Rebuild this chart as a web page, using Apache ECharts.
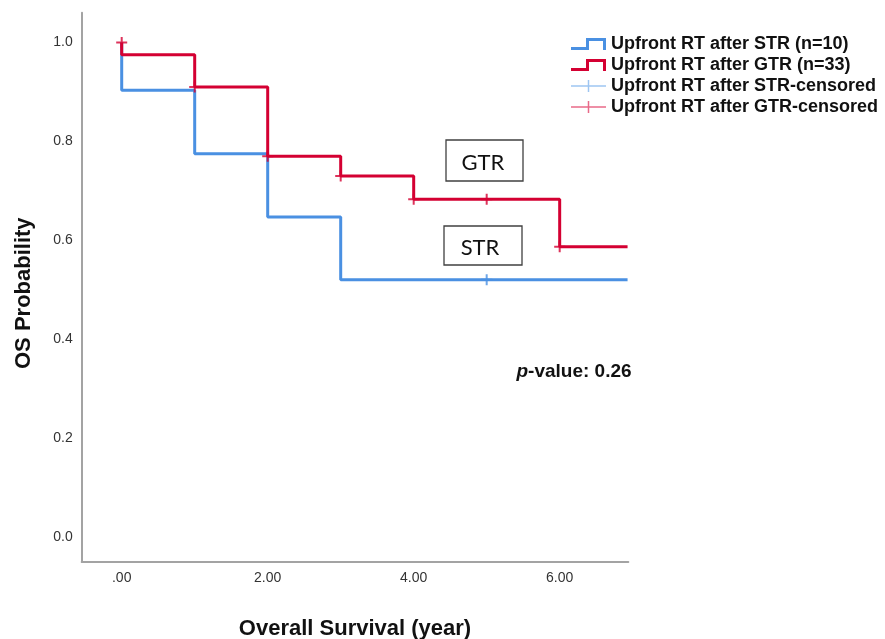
<!DOCTYPE html>
<html>
<head>
<meta charset="utf-8">
<script src="https://cdn.jsdelivr.net/npm/echarts@6/dist/echarts.min.js"></script>
<style>
html,body{margin:0;padding:0;background:#fff;overflow:hidden;}
#chart{width:885px;height:639px;}
</style>
</head>
<body>
<div id="chart"></div>
<script>
// ---- data ----
const seriesNames = [
  'Upfront RT after STR (n=10)',
  'Upfront RT after GTR (n=33)',
  'Upfront RT after STR-censored',
  'Upfront RT after GTR-censored'
];
const strTimes = [0, 0, 1, 2, 3, 6.93];
const strSurv  = [1.0, 0.903, 0.775, 0.647, 0.52, 0.52];
const gtrTimes = [0, 0, 1, 2, 3, 4, 6, 6.93];
const gtrSurv  = [1.0, 0.975, 0.91, 0.77, 0.73, 0.683, 0.587, 0.587];
const strCensTimes = [5];
const strCensSurv  = [0.52];
const gtrCensTimes = [0, 1, 2, 3, 4, 5, 6];
const gtrCensSurv  = [1.0, 0.91, 0.77, 0.73, 0.683, 0.683, 0.587];
const xTickValues = [0, 2, 4, 6];
const xTickLabels = ['.00', '2.00', '4.00', '6.00'];
const yTickValues = [0, 0.2, 0.4, 0.6, 0.8, 1.0];
const yTickLabels = ['0.0', '0.2', '0.4', '0.6', '0.8', '1.0'];
const xTitle = 'Overall Survival (year)';
const yTitle = 'OS Probability';
const pValueText = '0.26';

const zip = (a, b) => a.map((v, i) => [v, b[i]]);

const BLUE = '#4a90e2';
const RED = '#d40032';
const FONT = '"Liberation Sans", Arial, sans-serif';
const stepIcon = 'path://M0,9 L15,9 L15,0 L35,0 L35,12 L32,12 L32,3 L18,3 L18,12 L0,12 Z';
const censIcon = 'path://M0,5.25 L35,5.25 L35,6.75 L0,6.75 Z M16.75,0 L18.25,0 L18.25,12 L16.75,12 Z';
const plusMark = 'path://M0,4.5 L11,4.5 L11,6.5 L0,6.5 Z M4.5,0 L6.5,0 L6.5,11 L4.5,11 Z';

const chart = echarts.init(document.getElementById('chart'), null, {renderer: 'canvas'});
chart.setOption({
  animation: false,
  backgroundColor: '#fff',
  grid: {left: 81.7, top: 12.7, right: 256.7, bottom: 77.3, containLabel: false, outerBoundsMode: 'none'},
  legend: {
    orient: 'vertical',
    left: 571, top: 35,
    padding: 0,
    itemGap: 3,
    itemWidth: 35, itemHeight: 12,
    textStyle: {fontFamily: FONT, fontSize: 18, fontWeight: 'bold', color: '#111'},
    itemStyle: {borderWidth: 0},
    data: [
      {name: seriesNames[0], icon: stepIcon, itemStyle: {color: BLUE}},
      {name: seriesNames[1], icon: stepIcon, itemStyle: {color: RED}},
      {name: seriesNames[2], icon: censIcon, itemStyle: {color: '#86b6ee'}},
      {name: seriesNames[3], icon: censIcon, itemStyle: {color: '#e2456c'}}
    ],
    selectedMode: false
  },
  xAxis: {
    type: 'value', min: -0.548, max: 6.94,
    name: xTitle, nameLocation: 'middle', nameGap: 56,
    nameTextStyle: {fontFamily: FONT, fontSize: 22, fontWeight: 'bold', color: '#111'},
    axisLine: {show: true, onZero: false, lineStyle: {color: '#a3a3a3', width: 2}},
    axisTick: {show: false},
    splitLine: {show: false},
    axisLabel: {
      customValues: xTickValues,
      formatter: v => xTickLabels[xTickValues.indexOf(v)] ?? '',
      fontFamily: FONT, fontSize: 14, color: '#333', margin: 9
    }
  },
  yAxis: {
    type: 'value', min: -0.05, max: 1.06,
    name: yTitle, nameLocation: 'middle', nameGap: 47, nameRotate: 90,
    nameTextStyle: {fontFamily: FONT, fontSize: 22, fontWeight: 'bold', color: '#111', padding: [0, 12, 0, 0]},
    axisLine: {show: true, onZero: false, lineStyle: {color: '#a3a3a3', width: 2}},
    axisTick: {show: false},
    splitLine: {show: false},
    axisLabel: {
      customValues: yTickValues,
      formatter: v => {
        const i = yTickValues.findIndex(t => Math.abs(t - v) < 1e-9);
        return i >= 0 ? yTickLabels[i] : '';
      },
      fontFamily: FONT, fontSize: 14, color: '#333', margin: 9
    }
  },
  series: [
    {
      name: seriesNames[0], type: 'line', step: 'end', symbol: 'none',
      data: zip(strTimes, strSurv), color: BLUE,
      lineStyle: {color: BLUE, width: 3}, z: 2
    },
    {
      name: seriesNames[1], type: 'line', step: 'end', symbol: 'none',
      data: zip(gtrTimes, gtrSurv), color: RED,
      lineStyle: {color: RED, width: 3}, z: 3
    },
    {
      name: seriesNames[2], type: 'scatter', symbol: plusMark, symbolSize: 11,
      data: zip(strCensTimes, strCensSurv), itemStyle: {color: BLUE}, z: 4
    },
    {
      name: seriesNames[3], type: 'scatter', symbol: plusMark, symbolSize: 11,
      data: zip(gtrCensTimes, gtrCensSurv), itemStyle: {color: RED}, z: 5
    }
  ],
  graphic: [
    {type: 'rect', shape: {x: 446, y: 140, width: 77, height: 41},
     style: {fill: '#fff', stroke: '#404040', lineWidth: 1.3}, z: 10},
    {type: 'text', x: 483, y: 163,
     style: {text: 'GTR', fontFamily: 'Lato, "Open Sans", sans-serif', fontSize: 22, fill: '#111', align: 'center', verticalAlign: 'middle'}, z: 11},
    {type: 'rect', shape: {x: 444, y: 226, width: 78, height: 39},
     style: {fill: '#fff', stroke: '#404040', lineWidth: 1.3}, z: 10},
    {type: 'text', x: 480, y: 248,
     style: {text: 'STR', fontFamily: 'Lato, "Open Sans", sans-serif', fontSize: 22, fill: '#111', align: 'center', verticalAlign: 'middle'}, z: 11},
    {type: 'text', x: 574, y: 372,
     style: {
       text: '{i|p}{b|-value: ' + pValueText + '}',
       align: 'center', verticalAlign: 'middle',
       rich: {
         i: {fontFamily: FONT, fontSize: 19, fontWeight: 'bold', fontStyle: 'italic', fill: '#111'},
         b: {fontFamily: FONT, fontSize: 19, fontWeight: 'bold', fill: '#111'}
       }
     }, z: 11}
  ]
});
</script>
</body>
</html>
